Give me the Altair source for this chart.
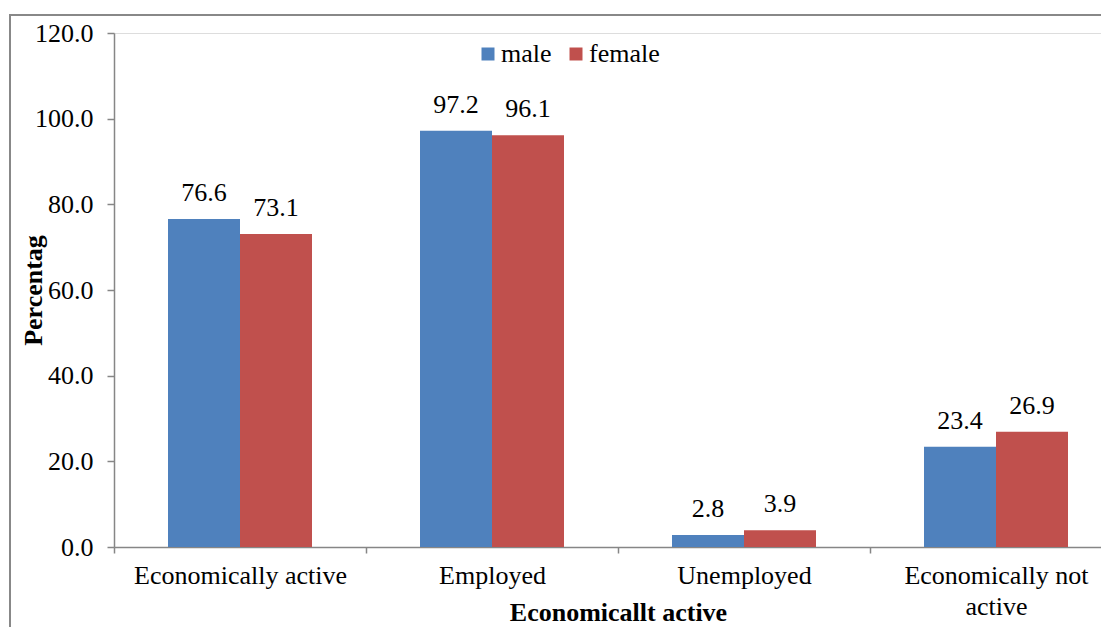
import altair as alt
import pandas as pd

categories = ["Economically active", "Employed", "Unemployed", "Economically not active"]
male = [76.6, 97.2, 2.8, 23.4]
female = [73.1, 96.1, 3.9, 26.9]
series = ["male", "female"]
colors = ["#4F81BD", "#C0504D"]
y_ticks = [0, 20, 40, 60, 80, 100, 120]

rows = []
for c, m, f in zip(categories, male, female):
    rows.append({"cat": c, "sex": "male", "val": m})
    rows.append({"cat": c, "sex": "female", "val": f})
df = pd.DataFrame(rows)

FONT = "Liberation Serif"
FS = 26
GRAY = "#868686"

x_enc = alt.X(
    "cat:N",
    sort=categories,
    scale=alt.Scale(range=[0, 1008], paddingInner=0, paddingOuter=0),
    axis=alt.Axis(
        title="Economicallt active",
        titleFont=FONT, titleFontSize=FS, titleFontWeight="bold", titleColor="black",
        titleX=504, titleY=73, titleBaseline="alphabetic", titleAlign="center",
        labelFont=FONT, labelFontSize=FS, labelColor="black", labelAngle=0,
        labelPadding=9, labelLineHeight=31, labelBaseline="top", labelLimit=500,
        labelExpr="datum.label == 'Economically not active' ? ['Economically not', 'active'] : datum.label",
        tickBand="extent", tickSize=6, tickColor=GRAY, domainColor=GRAY,
        domainWidth=1.5, tickWidth=1.5, grid=False,
    ),
)
xoff = alt.XOffset("sex:N", sort=series, scale=alt.Scale(paddingInner=0, paddingOuter=0.75))
y_enc = alt.Y(
    "val:Q",
    scale=alt.Scale(domain=[0, 120]),
    axis=alt.Axis(
        title="Percentag", values=y_ticks, format=".1f",
        titleFont=FONT, titleFontSize=FS, titleFontWeight="bold", titleColor="black",
        titleX=-81, titleY=257, titleAngle=-90, titleAlign="center", titleBaseline="middle",
        labelFont=FONT, labelFontSize=FS, labelColor="black", labelPadding=14,
        tickSize=7, tickColor=GRAY, domainColor=GRAY, domainWidth=1.5, tickWidth=1.5,
        grid=False,
    ),
)

bars = alt.Chart(df).mark_bar().encode(
    x=x_enc,
    xOffset=xoff,
    y=y_enc,
    color=alt.Color(
        "sex:N", sort=series,
        scale=alt.Scale(domain=series, range=colors),
        legend=alt.Legend(
            title=None, orient="none", legendX=361, legendY=8, direction="horizontal",
            symbolType="square", symbolSize=169, symbolStrokeWidth=0,
            labelFont=FONT, labelFontSize=FS, labelColor="black",
            labelOffset=0, columnPadding=11,
        ),
    ),
)

labels = alt.Chart(df).mark_text(
    font=FONT, fontSize=FS, color="black", baseline="alphabetic", dy=-18
).encode(
    x=alt.X("cat:N", sort=categories),
    xOffset=alt.XOffset("sex:N", sort=series),
    y="val:Q",
    text=alt.Text("val:Q", format=".1f"),
)

frame = alt.Chart(alt.Data(values=[{}])).mark_rect(
    fill=None, stroke="#888888", strokeWidth=2
).encode(
    x=alt.value(-104), x2=alt.value(3000), y=alt.value(-18), y2=alt.value(3000)
)

chart = alt.layer(bars, labels, frame).properties(
    width=987, height=514,
    autosize=alt.AutoSizeParams(type="none"),
    padding={"left": 106, "top": 25, "right": 0, "bottom": 80},
).configure_view(stroke=None).configure(background="white")

chart.save("out.html", embed_options={"renderer": "svg", "actions": False})
